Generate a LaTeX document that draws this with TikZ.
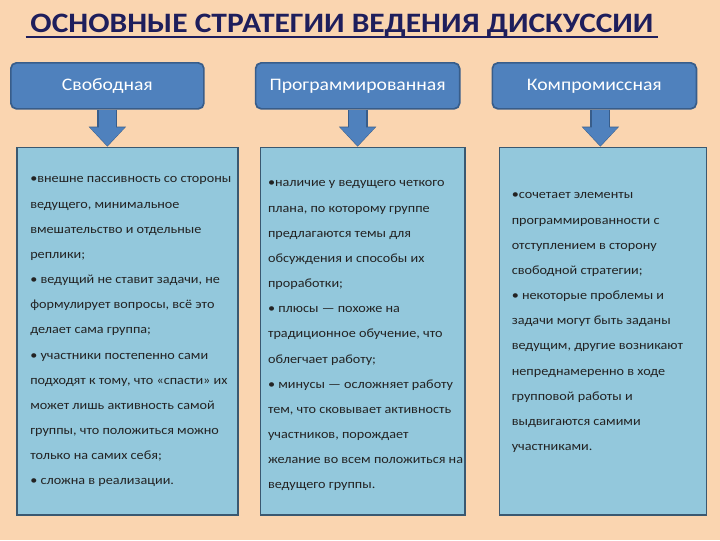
\documentclass[tikz,border=0pt]{standalone}
\usepackage{fontspec}
\setmainfont{Carlito}[FakeStretch=1.12]
\usepackage{xcolor}
\usetikzlibrary{arrows.meta,positioning}

\definecolor{peach}{RGB}{250,213,176}
\definecolor{hfill}{RGB}{79,129,189}
\definecolor{hline}{RGB}{56,93,138}
\definecolor{bfill}{RGB}{147,200,220}
\definecolor{bline}{RGB}{58,88,112}
\definecolor{navy}{RGB}{30,30,92}
\definecolor{ink}{RGB}{35,35,35}

\begin{document}
\begin{tikzpicture}[
    x=0.025cm, y=-0.025cm,
    head/.style={draw=hline, fill=hfill, line width=1.2pt, rounded corners=4pt,
        minimum height=1.15cm, text=white, font=\fontsize{12.5}{14}\selectfont},
    body/.style={draw=bline, fill=bfill, line width=1.2pt, minimum height=9.175cm},
    txt/.style={anchor=north west, inner sep=0pt, align=left, text=ink,
        font=\fontsize{9}{17.9}\selectfont},
    fat/.style={draw=hfill, line width=0.44cm, shorten >=0.6pt,
        -{Triangle[width=0.84cm, length=0.46cm]},
        preaction={draw=hline, line width=0.5cm, shorten >=0pt,
            -{Triangle[width=0.9cm, length=0.5cm]}}}
]
\fill[peach] (0,0) rectangle (720,540);
\useasboundingbox (0,0) rectangle (720,540);

% title
\node[text=navy, font=\fontsize{20}{22}\bfseries, anchor=base] (title) at (342,32)
    {ОСНОВНЫЕ СТРАТЕГИИ ВЕДЕНИЯ ДИСКУССИИ};
\draw[navy, line width=1.6pt] ([yshift=-3.5pt]title.base west) -- ([yshift=-3.5pt]title.base east);

% strategy headers
\node[head, minimum width=4.825cm, anchor=north west] (h1) at (10,62) {Свободная};
\node[head, minimum width=5.1cm, right=1.25cm of h1] (h2) {Программированная};
\node[head, minimum width=5.1cm, right=0.775cm of h2] (h3) {Компромиссная};

% description boxes
\node[body, minimum width=5.525cm, below right=0.925cm and 0.15cm of h1.south west] (b1) {};
\node[body, minimum width=5.1cm, below right=0.925cm and 0.125cm of h2.south west] (b2) {};
\node[body, minimum width=5.175cm, below right=0.925cm and 0.175cm of h3.south west] (b3) {};

\draw[fat] (h1.south) -- (h1.south |- b1.north);
\draw[fat] (h2.south) -- (h2.south |- b2.north);
\draw[fat] ([xshift=0.15cm]h3.south) -- ([xshift=0.15cm]h3.south |- b3.north);

\node[txt] (t1) at ([shift={(14,18.3)}]b1.north west) {%
\strut•внешне пассивность со стороны\\
ведущего, минимальное\\
вмешательство и отдельные\\
реплики;\\
• ведущий не ставит задачи, не\\
формулирует вопросы, всё это\\
делает сама группа;\\
• участники постепенно сами\\
подходят к тому, что «спасти» их\\
может лишь активность самой\\
группы, что положиться можно\\
только на самих себя;\\
• сложна в реализации.};

\node[txt] (t2) at ([shift={(8,22.3)}]b2.north west) {%
\strut•наличие у ведущего четкого\\
плана, по которому группе\\
предлагаются темы для\\
обсуждения и способы их\\
проработки;\\
• плюсы — похоже на\\
традиционное обучение, что\\
облегчает работу;\\
• минусы — осложняет работу\\
тем, что сковывает активность\\
участников, порождает\\
желание во всем положиться на\\
ведущего группы.};

\node[txt] (t3) at ([shift={(13,34.3)}]b3.north west) {%
\strut•сочетает элементы\\
программированности с\\
отступлением в сторону\\
свободной стратегии;\\
• некоторые проблемы и\\
задачи могут быть заданы\\
ведущим, другие возникают\\
непреднамеренно в ходе\\
групповой работы и\\
выдвигаются самими\\
участниками.};
\end{tikzpicture}
\end{document}
